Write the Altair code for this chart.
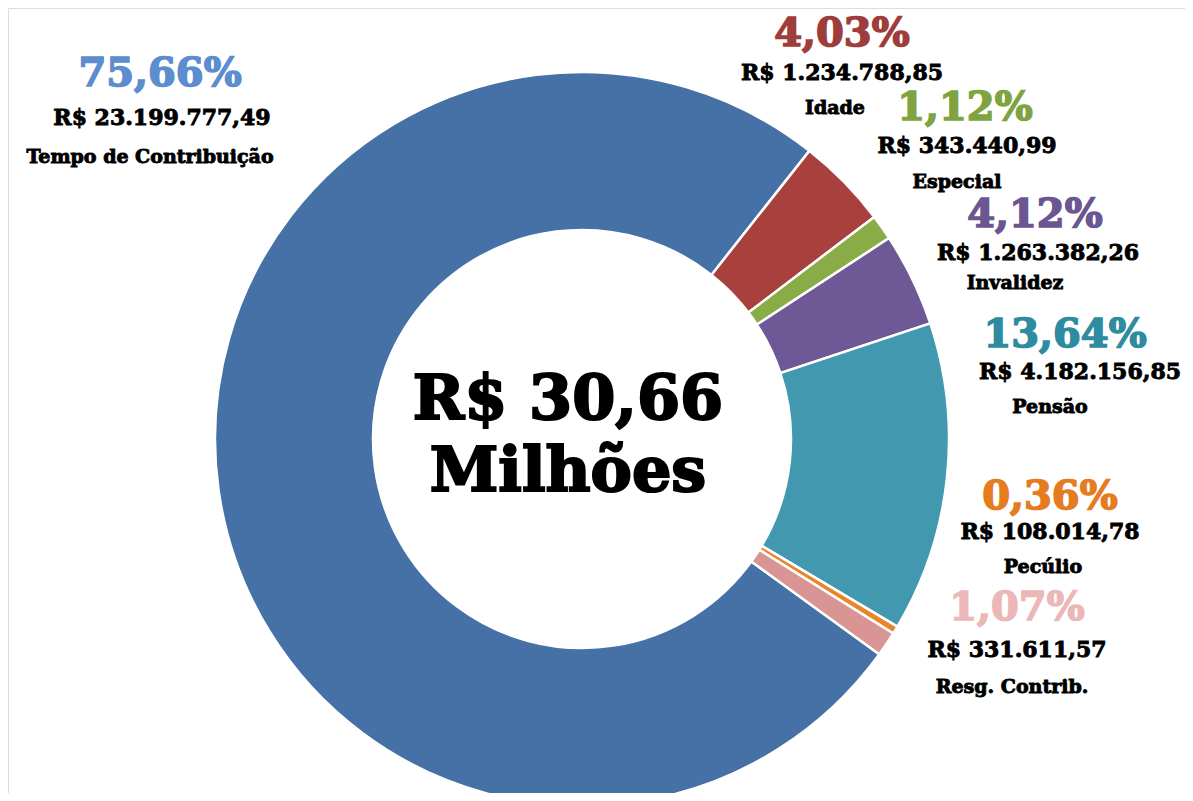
import math
import altair as alt
import pandas as pd

# ---- data ----
categories = ["Tempo de Contribuição", "Idade", "Especial", "Invalidez",
              "Pensão", "Pecúlio", "Resg. Contrib."]
values = [23199777.49, 1234788.85, 343440.99, 1263382.26,
          4182156.85, 108014.78, 331611.57]
pct_labels = ["75,66%", "4,03%", "1,12%", "4,12%", "13,64%", "0,36%", "1,07%"]
center_lines = ["R$ 30,66", "Milhões"]

# ---- styles ----
slice_colors = ["#4571A6", "#A8403D", "#89AC47", "#6F5896",
                "#4298AF", "#E9852B", "#D99594"]
pct_colors = ["#5B8DCF", "#9E3D3B", "#7FA33F", "#6B5692",
              "#2E8BA0", "#E57C1F", "#EBB7B7"]
FONT = "DejaVu Serif"

# ---- layout (page px, minus 8px margin) ----
M = 8
cx, cy = 582 - M, 439 - M
r_out, r_in = 367, 209
start = math.radians(125.9)
# (x, y) centers for percent / amount / name, per category
pct_pos = [(160, 74), (842, 34), (965, 108), (1035, 215), (1065, 335), (1050, 497), (1017, 608)]
amt_pos = [(162, 118), (842, 73), (967, 146), (1038, 253), (1080, 372), (1050, 532), (1017, 650)]
name_pos = [(150, 157), (835, 108), (957, 182), (1015, 283), (1050, 407), (1043, 567), (1012, 687)]


def brl(v):
    s = f"{v:,.2f}".replace(",", "X").replace(".", ",").replace("X", ".")
    return "R$ " + s


df = pd.DataFrame({"cat": categories, "value": values, "idx": list(range(len(values)))})

arc = alt.Chart(df).mark_arc(
    outerRadius=r_out, innerRadius=r_in, stroke="white", strokeWidth=2.5
).encode(
    x=alt.value(cx), y=alt.value(cy),
    theta=alt.Theta("value:Q", stack=True,
                    scale=alt.Scale(range=[start, start + 2 * math.pi])),
    color=alt.Color("cat:N", scale=alt.Scale(domain=categories, range=slice_colors), legend=None),
    order=alt.Order("idx:Q"),
)

rows = []
for i, c in enumerate(categories):
    rows.append({"t": pct_labels[i], "px": pct_pos[i][0] - M, "py": pct_pos[i][1] - M,
                 "kind": "pct", "col": pct_colors[i]})
    rows.append({"t": brl(values[i]), "px": amt_pos[i][0] - M, "py": amt_pos[i][1] - M,
                 "kind": "amt", "col": "#000000"})
    rows.append({"t": c, "px": name_pos[i][0] - M, "py": name_pos[i][1] - M,
                 "kind": "name", "col": "#000000"})
lab = pd.DataFrame(rows)


def text_layer(kind, size, sw):
    return alt.Chart(lab).transform_filter(alt.datum.kind == kind).mark_text(
        font=FONT, fontWeight="bold", fontSize=size, baseline="middle", align="center",
        strokeWidth=sw
    ).encode(
        x=alt.X("px:Q", scale=None, axis=None),
        y=alt.Y("py:Q", scale=None, axis=None),
        text="t:N",
        color=alt.Color("col:N", scale=None, legend=None),
        stroke=alt.Stroke("col:N", scale=None, legend=None),
    )


pct_t = text_layer("pct", 40, 1.6)
amt_t = text_layer("amt", 22, 0.9)
name_t = text_layer("name", 19, 0.9)

cdf = pd.DataFrame({"t": center_lines, "px": [568 - M, 568 - M], "py": [400 - M, 472 - M]})
center_t = alt.Chart(cdf).mark_text(
    font=FONT, fontWeight="bold", fontSize=62, baseline="middle", align="center",
    color="black", stroke="black", strokeWidth=2.2
).encode(
    x=alt.X("px:Q", scale=None, axis=None),
    y=alt.Y("py:Q", scale=None, axis=None),
    text="t:N",
)

chart = alt.layer(arc, pct_t, amt_t, name_t, center_t).properties(
    width=1177, height=785, padding=0, autosize=alt.AutoSizeParams(type="none")
).configure_view(strokeWidth=0, stroke="transparent").configure(background="white")

chart.save("out.html", embed_options={"renderer": "svg", "actions": False})
